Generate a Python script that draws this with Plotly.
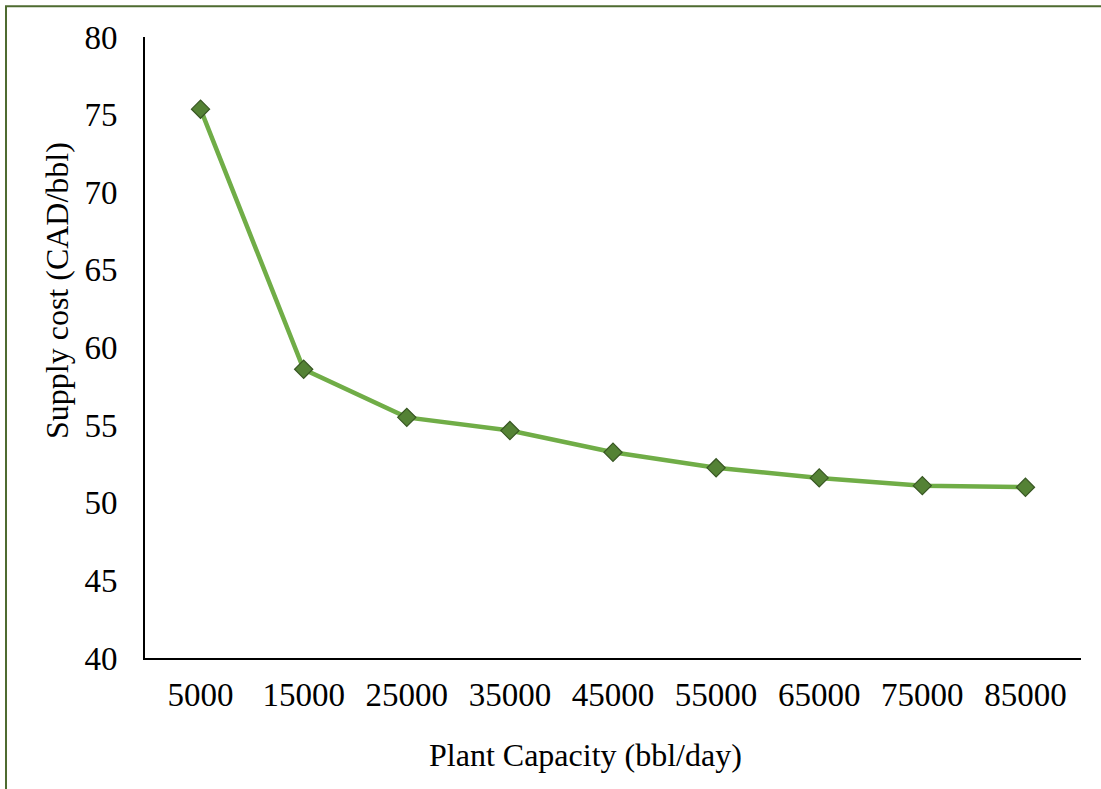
import plotly.graph_objects as go

capacity = ["5000", "15000", "25000", "35000", "45000", "55000", "65000", "75000", "85000"]
supply_cost = [75.35, 58.6, 55.5, 54.65, 53.25, 52.25, 51.6, 51.1, 51.0]
y_ticks = [40, 45, 50, 55, 60, 65, 70, 75, 80]

FONT = "Liberation Serif, Times New Roman, serif"

fig = go.Figure()
fig.add_trace(go.Scatter(
    x=capacity, y=supply_cost, mode="lines+markers",
    line=dict(color="#70ad47", width=4.5),
    marker=dict(symbol="diamond", size=14, color="#548235",
                line=dict(color="#385723", width=1.2)),
    showlegend=False,
))

fig.update_layout(
    width=1101, height=789,
    margin=dict(l=145, r=20, t=37, b=131),
    paper_bgcolor="white", plot_bgcolor="white",
    font=dict(family=FONT, size=32, color="black"),
    xaxis=dict(
        type="category", showgrid=False, zeroline=False,
        showline=True, linecolor="black", linewidth=2,
        ticks="", ticklabelstandoff=6, tickfont=dict(size=33),
    ),
    yaxis=dict(
        range=[40, 80], tickvals=y_ticks, showgrid=False, zeroline=False,
        showline=True, linecolor="black", linewidth=2,
        ticks="", ticklabelstandoff=19, tickfont=dict(size=33),
    ),
    annotations=[
        dict(text="Plant Capacity (bbl/day)", xref="paper", yref="paper",
             x=0.471, y=-0.156, xanchor="center", yanchor="middle",
             showarrow=False, font=dict(size=32)),
        dict(text="Supply cost (CAD/bbl)", xref="paper", yref="paper",
             x=-0.094, y=0.591, xanchor="center", yanchor="middle",
             textangle=-90, showarrow=False, font=dict(size=32)),
    ],
    shapes=[dict(type="rect", xref="paper", yref="paper",
                 x0=-0.1485, x1=1.2, y0=-0.4, y1=1.0495,
                 line=dict(color="#4e6b30", width=2), fillcolor="rgba(0,0,0,0)",
                 layer="below")],
)

fig.write_html("out.html")
